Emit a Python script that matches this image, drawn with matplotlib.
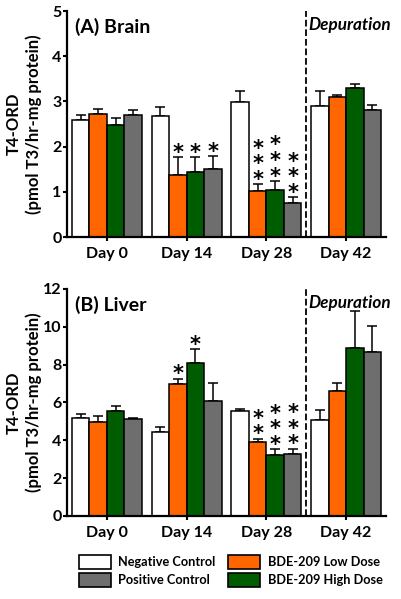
import matplotlib
matplotlib.use("Agg")
import matplotlib.pyplot as plt
from matplotlib.patches import Patch
import numpy as np

plt.rcParams['font.family'] = ['Lato', 'DejaVu Sans']
plt.rcParams['font.weight'] = 'bold'

days = ["Day 0", "Day 14", "Day 28", "Day 42"]
groups = ["Negative Control", "BDE-209 Low Dose", "BDE-209 High Dose", "Positive Control"]
colors = ["#FFFFFF", "#FF6600", "#005C00", "#6E6E6E"]

brain_mean = [
    [2.60, 2.68, 2.99, 2.90],   # negative control
    [2.72, 1.37, 1.02, 3.09],   # low dose
    [2.47, 1.43, 1.04, 3.29],   # high dose
    [2.70, 1.51, 0.76, 2.80],   # positive control
]
brain_err = [
    [0.10, 0.19, 0.25, 0.33],
    [0.12, 0.39, 0.15, 0.06],
    [0.16, 0.33, 0.20, 0.10],
    [0.12, 0.28, 0.12, 0.13],
]
brain_stars = [
    [0, 0, 0, 0],
    [0, 1, 3, 0],
    [0, 1, 3, 0],
    [0, 1, 3, 0],
]

liver_mean = [
    [5.16, 4.44, 5.53, 5.06],
    [4.95, 6.96, 3.91, 6.63],
    [5.57, 8.09, 3.22, 8.90],
    [5.13, 6.08, 3.30, 8.67],
]
liver_err = [
    [0.23, 0.25, 0.11, 0.54],
    [0.34, 0.30, 0.18, 0.42],
    [0.26, 0.72, 0.30, 1.94],
    [0.07, 0.97, 0.26, 1.36],
]
liver_stars = [
    [0, 0, 0, 0],
    [0, 1, 2, 0],
    [0, 1, 3, 0],
    [0, 0, 3, 0],
]

fig = plt.figure(figsize=(4.02, 5.99), dpi=100)
ax1 = fig.add_axes([0.1667, 0.6043, 0.7935, 0.3773])
ax2 = fig.add_axes([0.1667, 0.1386, 0.7935, 0.3790])

width = 0.22
x = np.arange(len(days))


def draw(ax, means, errs, stars, ymax, ystep, title):
    for i in range(4):
        pos = x + (i - 1.5) * width
        ax.bar(pos, means[i], width, color=colors[i], edgecolor='black',
               linewidth=1.1, zorder=2)
        ax.errorbar(pos, means[i], yerr=[np.zeros(4), errs[i]], fmt='none',
                    ecolor='black', elinewidth=1.1, capsize=3.5, capthick=1.1,
                    zorder=1)
        for j in range(4):
            n = stars[i][j]
            if n == 0:
                continue
            top = means[i][j] + errs[i][j]
            ax.annotate('\n'.join(['*'] * n), xy=(pos[j], top), xytext=(0, -4),
                        textcoords='offset points', ha='center', va='bottom',
                        fontsize=15, fontweight='bold', linespacing=0.72,
                        fontfamily='DejaVu Sans', zorder=3)
    ax.set_xlim(-0.5, 3.5)
    ax.set_ylim(0, ymax)
    ax.set_yticks(np.arange(0, ymax + 0.01, ystep))
    ax.set_xticks(x)
    ax.set_xticklabels(days)
    ax.spines['top'].set_visible(False)
    ax.spines['right'].set_visible(False)
    ax.spines['left'].set_linewidth(1.6)
    ax.spines['bottom'].set_linewidth(1.6)
    ax.tick_params(axis='y', width=1.5, length=3, pad=1, labelsize=11.5)
    ax.tick_params(axis='x', width=1.5, length=3, pad=4, labelsize=11.5)
    for lab in ax.get_xticklabels() + ax.get_yticklabels():
        lab.set_fontweight('bold')
    ax.axvline(2.5, color='black', linestyle='--', linewidth=1.3, zorder=0)
    ax.text(0.026, 0.968, title, transform=ax.transAxes, ha='left', va='top',
            fontsize=14, fontweight='bold')
    ax.text(2.53, ymax * 0.975, 'Depuration', ha='left', va='top',
            fontsize=12.3, fontweight='bold', fontstyle='italic', clip_on=False)
    ax.set_ylabel('T4-ORD\n(pmol T3/hr-mg protein)', fontsize=12,
                  fontweight='bold', linespacing=1.3)
    ax.yaxis.set_label_coords(-0.078, 0.5)


draw(ax1, brain_mean, brain_err, brain_stars, 5, 1, '(A) Brain')
draw(ax2, liver_mean, liver_err, liver_stars, 12, 2, '(B) Liver')

handles = [Patch(facecolor=colors[0], edgecolor='black', linewidth=1.2),
           Patch(facecolor=colors[3], edgecolor='black', linewidth=1.2),
           Patch(facecolor=colors[1], edgecolor='black', linewidth=1.2),
           Patch(facecolor=colors[2], edgecolor='black', linewidth=1.2)]
labels = [groups[0], groups[3], groups[1], groups[2]]
fig.legend(handles, labels, ncol=2, loc='upper left',
           bbox_to_anchor=(0.183, 0.082), frameon=False,
           prop={'size': 9.2, 'weight': 'bold'}, handlelength=2.5,
           handleheight=1.3, columnspacing=1.0, handletextpad=0.6,
           labelspacing=0.3, borderaxespad=0)

fig.savefig('out.png', dpi=100)
